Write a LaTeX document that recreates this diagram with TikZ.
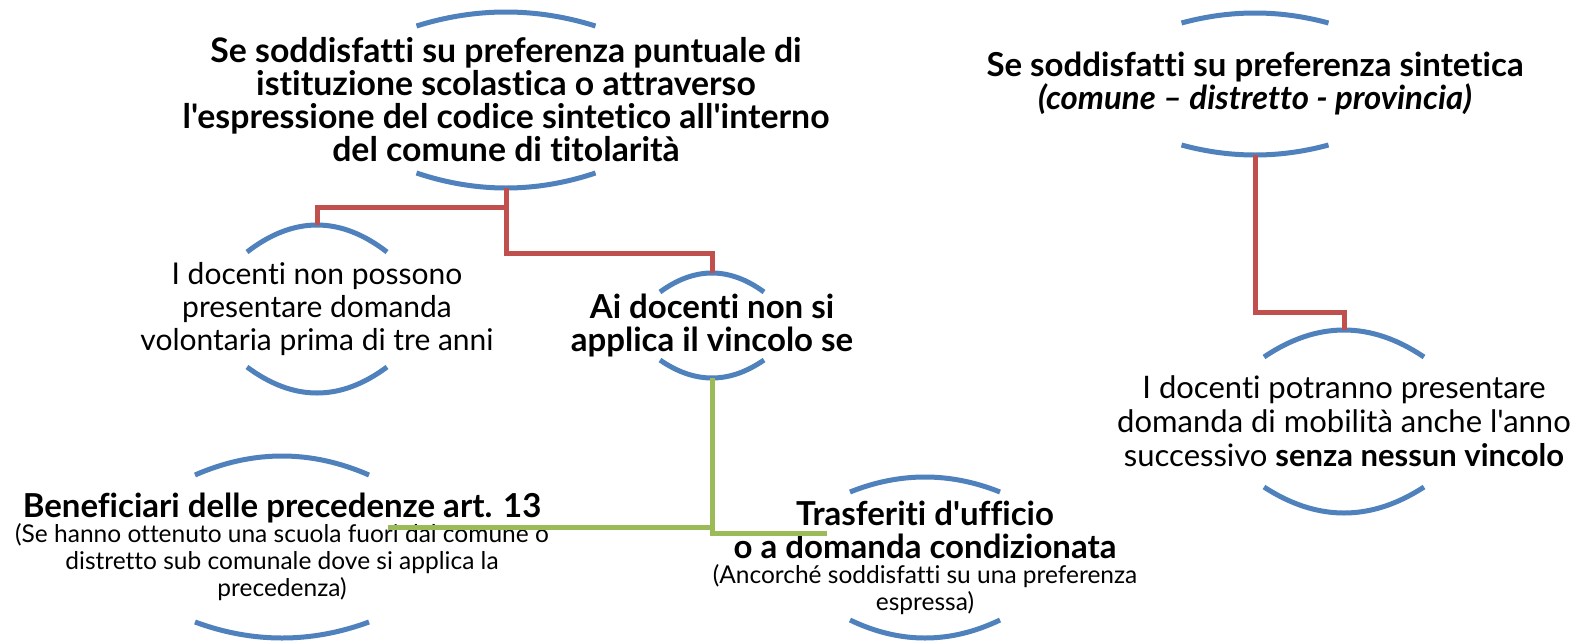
\documentclass[tikz,border=0pt]{standalone}
\usepackage{fontspec}
\setmainfont{Lato}[Ligatures={NoCommon,TeXOff}]
\definecolor{arcblue}{HTML}{4F81BD}
\definecolor{linkred}{HTML}{C0504D}
\definecolor{linkgreen}{HTML}{9BBB59}
\tikzset{
  box/.style={inner sep=0pt, outer sep=0pt, align=center, text=black},
  bigbold/.style={font=\fontsize{33}{33}\selectfont\bfseries},
  reg/.style={font=\fontsize{30}{33}\selectfont},
  small/.style={font=\fontsize{24.5}{27}\selectfont},
  arcline/.style={draw=arcblue, line width=5pt},
  redlink/.style={draw=linkred, line width=5pt},
  greenlink/.style={draw=linkgreen, line width=5pt},
}
% #1 node, #2 half width, #3 top sag, #4 bottom sag (cubic form of a parabola)
\newcommand\brackets[4]{%
  \draw[arcline] ([xshift=-#2,yshift=-#3]#1.north)
     .. controls ([xshift=-#2/3,yshift=#3/3]#1.north) and ([xshift=#2/3,yshift=#3/3]#1.north)
     .. ([xshift=#2,yshift=-#3]#1.north);
  \draw[arcline] ([xshift=-#2,yshift=#4]#1.south)
     .. controls ([xshift=-#2/3,yshift=-#4/3]#1.south) and ([xshift=#2/3,yshift=-#4/3]#1.south)
     .. ([xshift=#2,yshift=#4]#1.south);}
\begin{document}
\begin{tikzpicture}[x=1pt,y=-1pt]
\useasboundingbox[fill=white] (0,0) rectangle (1574,640);
% nodes
\node[box,font=\fontsize{33.8}{33}\selectfont\bfseries,minimum height=176pt] (n1) at (506,100)
  {Se soddisfatti su preferenza puntuale di\\ istituzione scolastica o attraverso\\ l'espressione del codice sintetico all'interno\\ del comune di titolarità};
\node[box,reg,minimum height=168pt] (n2) at (317,309)
  {I docenti non possono\\ presentare domanda\\ volontaria prima di tre anni};
\node[box,bigbold,minimum height=105pt] (n3) at (712,325.5)
  {Ai docenti non si\\ applica il vincolo se};
\node[box,small,minimum height=182pt] (n4) at (282,547)
  {{\fontsize{33}{33}\selectfont\bfseries Beneficiari delle precedenze art. 13}\\[-2pt]
   (Se hanno ottenuto una scuola fuori dal comune o\\ distretto sub comunale dove si applica la\\ precedenza)};
\node[box,small,minimum height=161pt] (n5) at (925,557.5)
  {{\fontsize{33}{33}\selectfont\bfseries Trasferiti d'ufficio}\\[6pt]
   {\fontsize{33}{33}\selectfont\bfseries o a domanda condizionata}\\[-2pt]
   (Ancorché soddisfatti su una preferenza\\ espressa)};
\node[box,bigbold,minimum height=142pt] (n6) at (1255,84)
  {Se soddisfatti su preferenza sintetica\\ \textit{(comune – distretto - provincia)}};
\node[box,font=\fontsize{31}{34}\selectfont,minimum height=183pt] (n7) at (1344,421.5)
  {I docenti potranno presentare\\ domanda di mobilità anche l'anno\\ successivo \textbf{senza nessun vincolo}};
% arcs
\brackets{n1}{89.5pt}{14pt}{15pt}
\brackets{n2}{70pt}{27pt}{26pt}
\brackets{n3}{52pt}{19pt}{18pt}
\brackets{n4}{87pt}{19pt}{16pt}
\brackets{n5}{75pt}{15pt}{18pt}
\brackets{n6}{73.5pt}{10pt}{10pt}
\brackets{n7}{80pt}{27pt}{26pt}
% connectors
\draw[redlink] (n1.south) -- ++(0,19) -| (n2.north);
\draw[redlink] (n1.south) -- ++(0,65) -| (n3.north);
\draw[redlink] (n6.south) -- ++(0,157) -| (n7.north);
\coordinate (gL) at (388,527);
\coordinate (gR) at (827,533);
\draw[greenlink] (n3.south) |- (gR);
\draw[greenlink] (gL) -- (gL -| n3.south);
\end{tikzpicture}
\end{document}
